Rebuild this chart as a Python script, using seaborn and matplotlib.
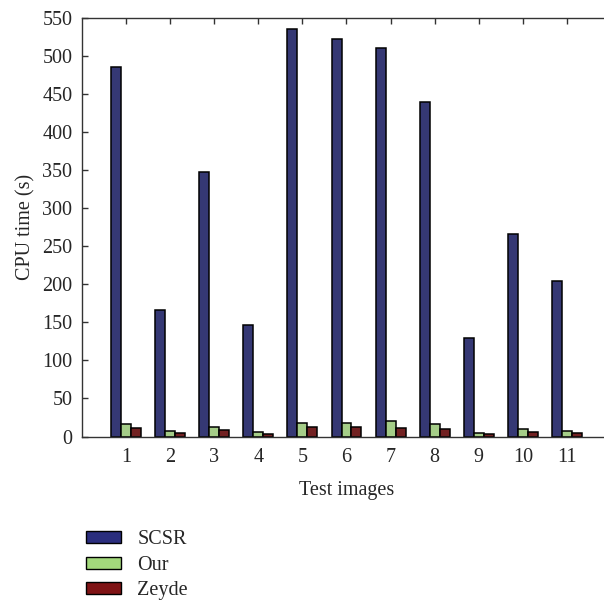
import matplotlib
matplotlib.use("Agg")
import matplotlib.pyplot as plt
import seaborn as sns
import pandas as pd
from matplotlib.patches import Patch

images = ["1", "2", "3", "4", "5", "6", "7", "8", "9", "10", "11"]
scsr = [486, 166, 347, 146, 536, 522, 510, 439, 129, 266, 204]
our = [16, 7, 12.5, 5.5, 18, 18, 20.5, 16.5, 5, 9.5, 7]
zeyde = [11, 4.5, 8, 3, 12, 12, 11, 10, 3, 5.5, 4.5]
methods = ["SCSR", "Our", "Zeyde"]
colors = ["#2b2e7e", "#a3d97c", "#7f1315"]
yticks = list(range(0, 551, 50))

df = pd.DataFrame({
    "image": images * 3,
    "method": [m for m in methods for _ in images],
    "time": scsr + our + zeyde,
})

sns.set_style("white")
plt.rcParams["font.family"] = ["Liberation Serif", "DejaVu Serif"]
FS = 14.5

fig = plt.figure(figsize=(6.04, 6.05), dpi=100)
ax = fig.add_axes([82 / 604, 168.5 / 605, (611 - 82) / 604, 418.5 / 605])

sns.barplot(data=df, x="image", y="time", hue="method", order=images,
            hue_order=methods, palette=colors, width=0.68,
            edgecolor="black", linewidth=1.1, ax=ax, legend=False)

ax.set_xlim(-1, 11)
ax.set_ylim(0, 550)
ax.set_yticks(yticks)
ax.set_xlabel("Test images", fontsize=FS, labelpad=10)
ax.set_ylabel("CPU time (s)", fontsize=FS, labelpad=5)
ax.tick_params(axis="x", bottom=False, top=True, direction="in", length=4,
               width=1, color="#333333", labelsize=FS, pad=8)
ax.tick_params(axis="y", left=True, direction="in", length=4, width=1,
               color="#333333", labelsize=FS, pad=7)
for s in ["left", "top", "bottom"]:
    ax.spines[s].set_visible(True)
    ax.spines[s].set_color("#333333")
    ax.spines[s].set_linewidth(1.0)
ax.spines["right"].set_visible(False)

handles = [Patch(facecolor=c, edgecolor="black", linewidth=1.0) for c in colors]
fig.legend(handles, methods, loc="upper left", bbox_to_anchor=(68 / 604, 1 - 512 / 605),
           frameon=False, fontsize=FS, handlelength=1.75, handleheight=0.55,
           labelspacing=0.33, handletextpad=0.8)

fig.savefig("out.png", dpi=100)
